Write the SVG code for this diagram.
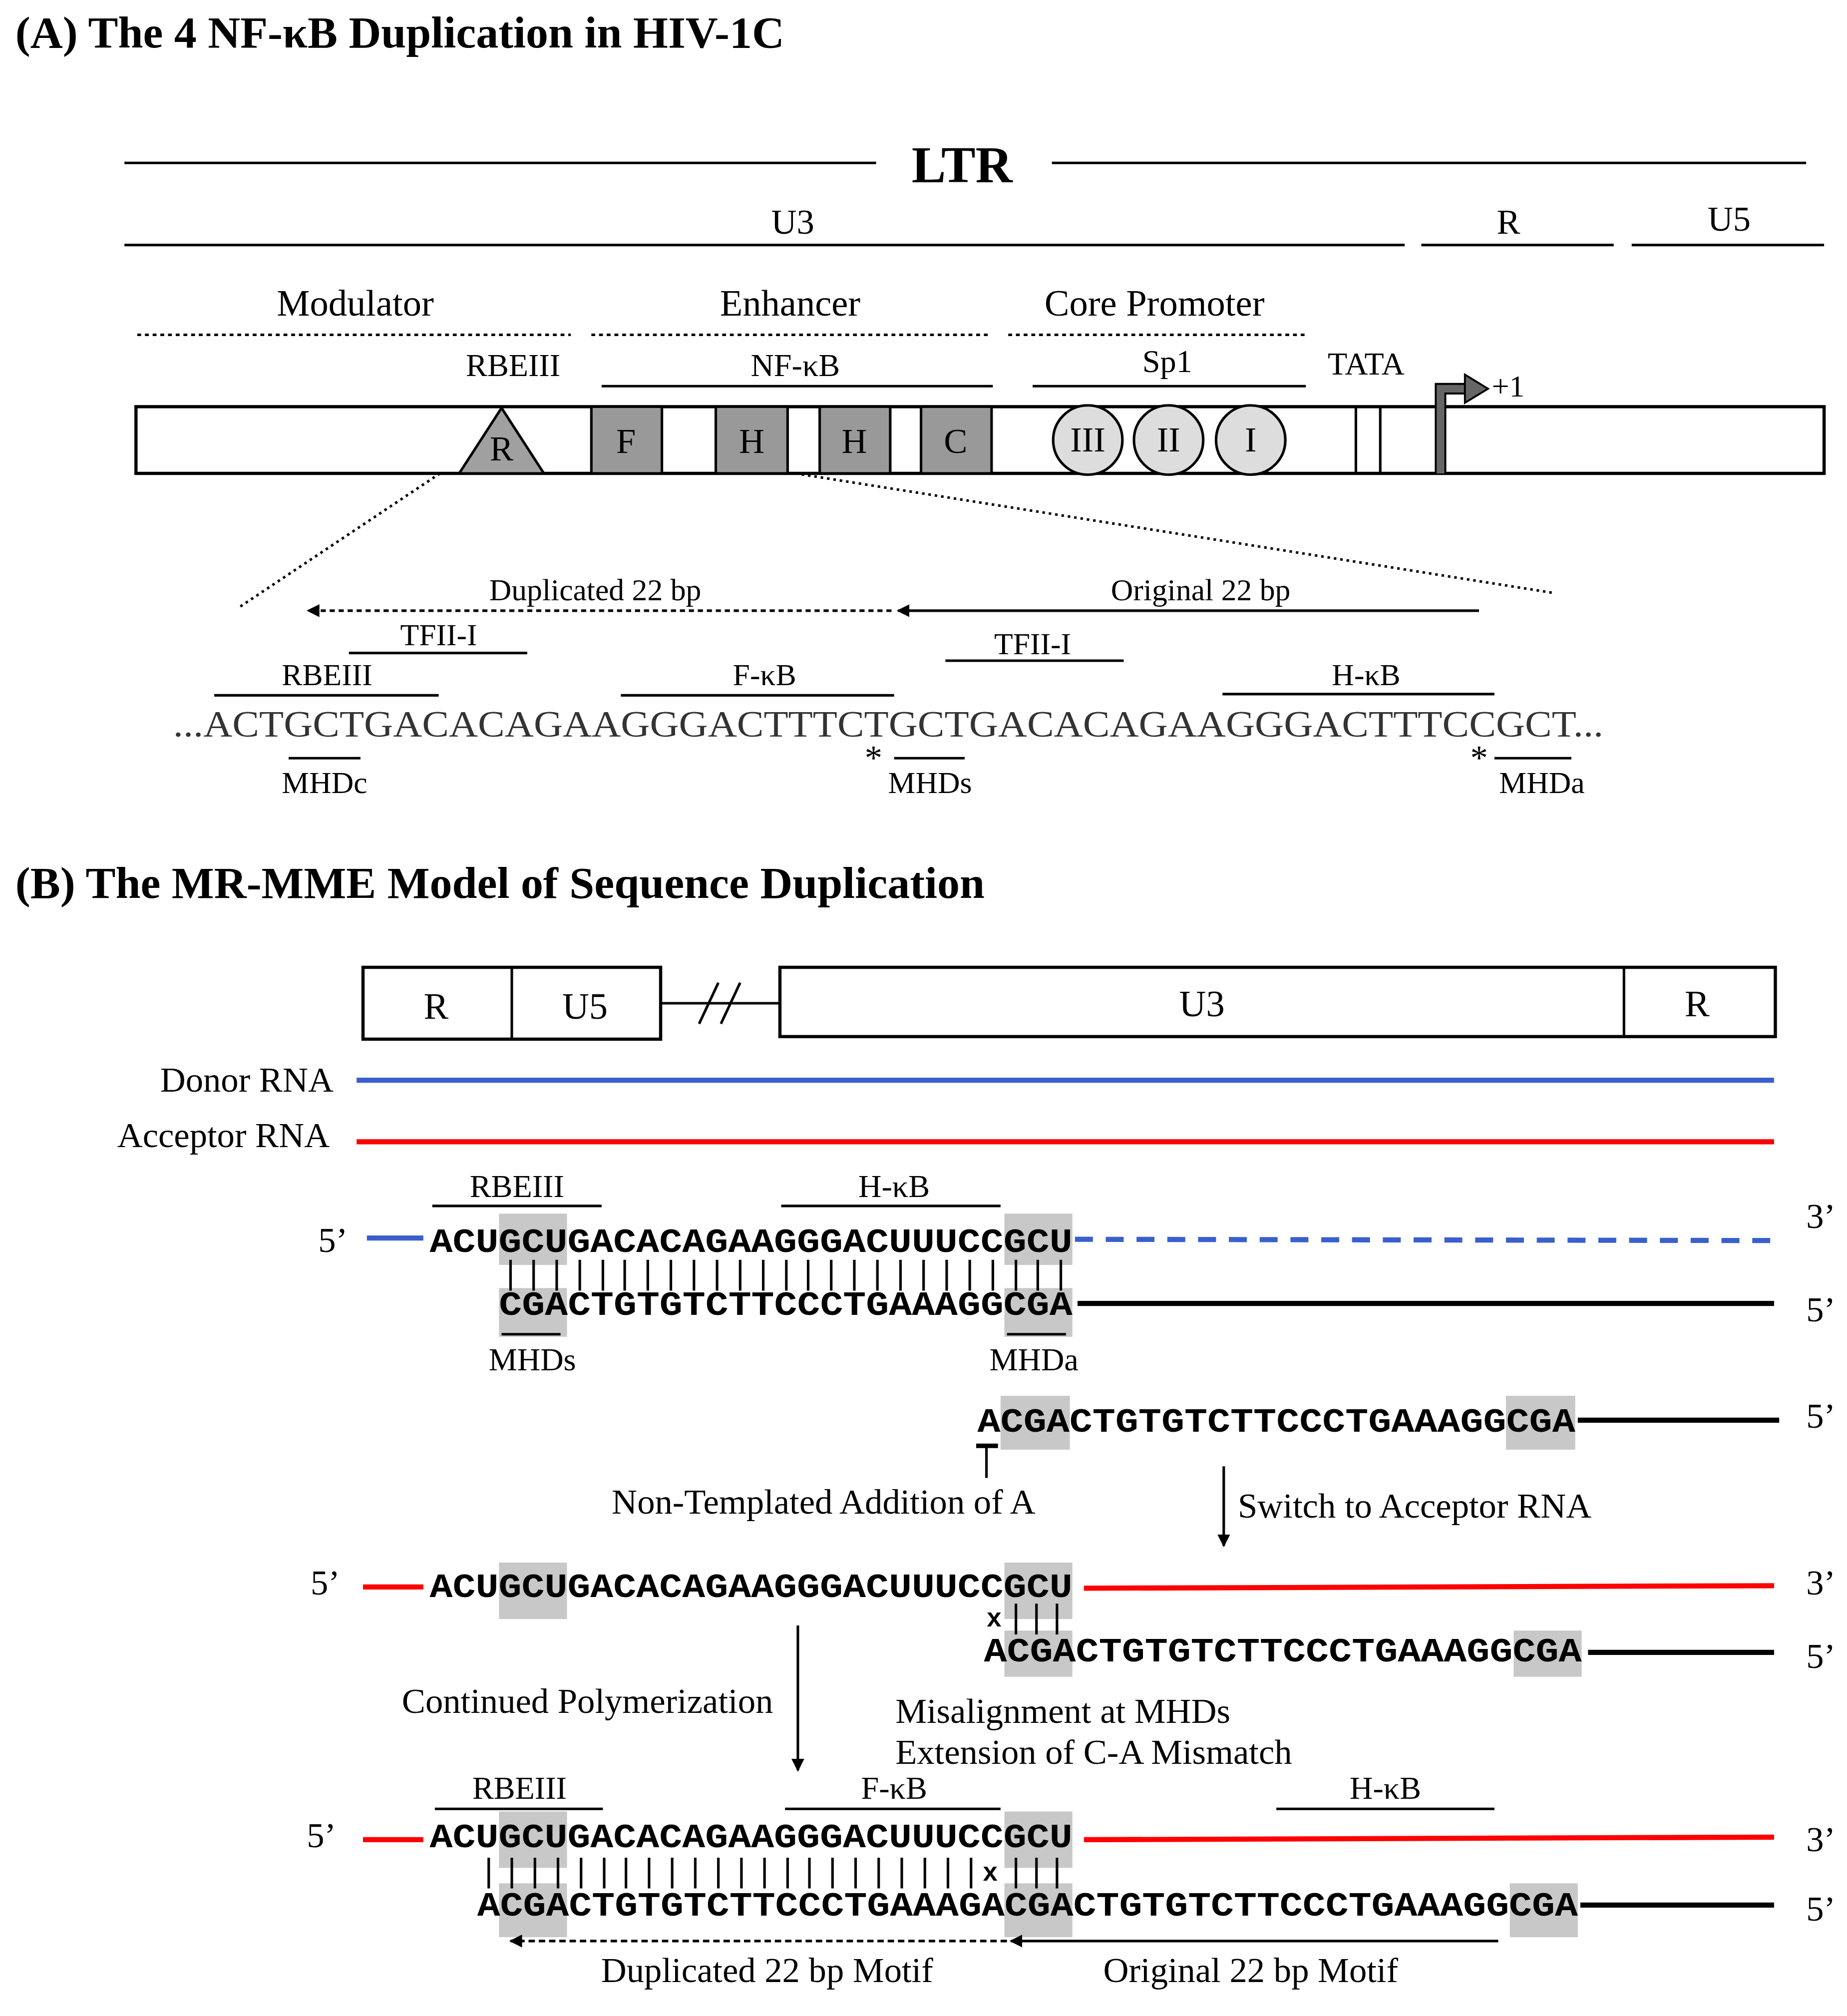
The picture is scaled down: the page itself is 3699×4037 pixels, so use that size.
<svg xmlns="http://www.w3.org/2000/svg" width="3699" height="4037" viewBox="0 0 3699 4037">
<defs>
<style>
text{font-family:"Liberation Serif","Times New Roman",serif;fill:#000}
.t{font-size:35px;font-weight:bold}
.l{font-size:27.5px}
.m{font-size:24px}
.c{text-anchor:middle}
.r{text-anchor:end}
.seq{font-family:"Liberation Mono","Courier New",monospace;font-weight:bold;font-size:27px}
.ln{stroke:#000;stroke-width:2;fill:none}
.bx{stroke:#000;stroke-width:2.5;fill:#fff}
.sh{fill:#c8c8c8}
</style>
<marker id="ah" viewBox="0 0 10 10" refX="9" refY="5" markerWidth="5" markerHeight="5" orient="auto-start-reverse"><path d="M0,0L10,5L0,10z" fill="#000"/></marker>
</defs>
<rect width="3699" height="4037" fill="#fff"/>
<g transform="scale(2.569)">
<g id="partA">
<text x="12" y="37" class="t">(A) The 4 NF-κB Duplication in HIV-1C</text>
<line x1="97" y1="127" x2="683" y2="127" class="ln"/><line x1="820" y1="127" x2="1408" y2="127" class="ln"/>
<text x="750" y="142" class="c" style="font-size:40px;font-weight:bold">LTR</text>
<text x="618" y="182" class="l c">U3</text><line x1="97" y1="191" x2="1095" y2="191" class="ln"/>
<text x="1176" y="182" class="l c">R</text><line x1="1108" y1="191" x2="1258" y2="191" class="ln"/>
<text x="1348" y="180" class="l c">U5</text><line x1="1272" y1="191" x2="1422" y2="191" class="ln"/>
<text x="277" y="246" class="l c" style="font-size:29px">Modulator</text><line x1="107" y1="261" x2="445" y2="261" class="ln" stroke-width="3" stroke-dasharray="3,3"/>
<text x="616" y="246" class="l c" style="font-size:29px">Enhancer</text><line x1="461" y1="261" x2="772" y2="261" class="ln" stroke-width="3" stroke-dasharray="3,3"/>
<text x="900" y="246" class="l c" style="font-size:29px">Core Promoter</text><line x1="786" y1="261" x2="1018" y2="261" class="ln" stroke-width="3" stroke-dasharray="3,3"/>
<text x="400" y="293" class="m c" style="font-size:25px">RBEIII</text>
<text x="620" y="293" class="m c" style="font-size:25px">NF-κB</text><line x1="469" y1="301" x2="774" y2="301" class="ln"/>
<text x="910" y="290" class="m c" style="font-size:25px">Sp1</text><line x1="805" y1="301" x2="1018" y2="301" class="ln"/>
<text x="1065" y="292" class="m c" style="font-size:25px">TATA</text>
<rect x="106" y="317" width="1316" height="52" class="bx"/>
<g id="nodeR"><polygon points="358,369 391,318 424,369" fill="#a0a0a0" stroke="#000" stroke-width="2"/><text x="391" y="359" class="l c">R</text></g>
<g id="nodeF"><rect x="461" y="317" width="55" height="52" fill="#999" stroke="#000" stroke-width="2"/><text x="488" y="353" class="l c">F</text></g>
<g id="nodeH1"><rect x="558" y="317" width="56" height="52" fill="#999" stroke="#000" stroke-width="2"/><text x="586" y="353" class="l c">H</text></g>
<g id="nodeH2"><rect x="639" y="317" width="55" height="52" fill="#999" stroke="#000" stroke-width="2"/><text x="666" y="353" class="l c">H</text></g>
<g id="nodeC"><rect x="718" y="317" width="55" height="52" fill="#999" stroke="#000" stroke-width="2"/><text x="745" y="353" class="l c">C</text></g>
<g id="sp1"><circle cx="848" cy="343" r="27" fill="#ddd" stroke="#000" stroke-width="2"/><text x="848" y="352" class="l c">III</text>
<circle cx="911" cy="343" r="27" fill="#ddd" stroke="#000" stroke-width="2"/><text x="911" y="352" class="l c">II</text>
<circle cx="975" cy="343" r="27" fill="#ddd" stroke="#000" stroke-width="2"/><text x="975" y="352" class="l c">I</text></g>
<line x1="1057" y1="317" x2="1057" y2="369" class="ln"/><line x1="1076" y1="317" x2="1076" y2="369" class="ln"/>
<path d="M1123,369V303H1145" stroke="#000" stroke-width="9" fill="none"/><path d="M1123,369V303H1145" stroke="#666" stroke-width="6" fill="none"/>
<polygon points="1142,292 1160,303 1142,314" fill="#666" stroke="#000" stroke-width="1.5"/>
<text x="1163" y="309" class="m">+1</text>
<line x1="343" y1="369" x2="187" y2="473" class="ln" stroke-dasharray="2,3"/>
<line x1="620" y1="369" x2="1210" y2="462" class="ln" stroke-dasharray="2,3"/>
<line x1="695" y1="476" x2="240" y2="476" class="ln" stroke-width="2.5" stroke-dasharray="4,3" marker-end="url(#ah)"/>
<line x1="1153" y1="476" x2="700" y2="476" class="ln" stroke-width="2.5" marker-end="url(#ah)"/>
<text x="464" y="468" class="m c">Duplicated  22 bp</text><text x="936" y="468" class="m c">Original  22 bp</text>
<text x="342" y="503" class="m c">TFII-I</text><line x1="272" y1="509" x2="411" y2="509" class="ln"/>
<text x="805" y="510" class="m c">TFII-I</text><line x1="737" y1="515" x2="876" y2="515" class="ln"/>
<text x="255" y="534" class="m c">RBEIII</text><line x1="167" y1="542" x2="342" y2="542" class="ln"/>
<text x="596" y="534" class="m c">F-κB</text><line x1="484" y1="542" x2="697" y2="542" class="ln"/>
<text x="1065" y="534" class="m c">H-κB</text><line x1="953" y1="541" x2="1165" y2="541" class="ln"/>
<text x="135" y="574" style="font-size:29px;fill:#333" textLength="1115" lengthAdjust="spacingAndGlyphs">...ACTGCTGACACAGAAGGGACTTTCTGCTGACACAGAAGGGACTTTCCGCT...</text>
<text x="681" y="600" class="l c">*</text><text x="1153" y="600" class="l c">*</text>
<line x1="225" y1="591" x2="281" y2="591" class="ln"/><text x="253" y="618" class="m c">MHDc</text>
<line x1="697" y1="591" x2="752" y2="591" class="ln"/><text x="725" y="618" class="m c">MHDs</text>
<line x1="1165" y1="591" x2="1225" y2="591" class="ln"/><text x="1202" y="618" class="m c">MHDa</text>
</g>
<g id="partB">
<text x="12" y="700" class="t">(B) The MR-MME Model of Sequence Duplication</text>
<g id="ltrbox"><rect x="283" y="754" width="232" height="56" class="bx"/><line x1="399" y1="754" x2="399" y2="810" class="ln" stroke-width="2.5"/>
<text x="340" y="794" class="l c" style="font-size:29px">R</text><text x="456" y="794" class="l c" style="font-size:29px">U5</text>
<line x1="515" y1="782" x2="608" y2="782" class="ln" stroke-width="2.5"/>
<line x1="545" y1="798" x2="560" y2="766" class="ln" stroke-width="2.5"/><line x1="562" y1="798" x2="577" y2="766" class="ln" stroke-width="2.5"/>
<rect x="608" y="754" width="776" height="54" class="bx"/><line x1="1266" y1="754" x2="1266" y2="808" class="ln" stroke-width="2.5"/>
<text x="937" y="792" class="l c" style="font-size:29px">U3</text><text x="1323" y="792" class="l c" style="font-size:29px">R</text></g>
<text x="260" y="851" class="l r">Donor RNA</text><line x1="278" y1="842" x2="1383" y2="842" stroke="#3a5fcd" stroke-width="4"/>
<text x="257" y="894" class="l r">Acceptor RNA</text><line x1="278" y1="890" x2="1383" y2="890" stroke="#f00" stroke-width="4"/>
<text x="403" y="933" class="m c" style="font-size:25px">RBEIII</text><line x1="337" y1="940" x2="469" y2="940" class="ln"/>
<text x="697" y="933" class="m c" style="font-size:25px">H-κB</text><line x1="609" y1="940" x2="780" y2="940" class="ln"/>
<g id="row1">
<rect x="389" y="946" width="53" height="40" class="sh"/><rect x="783" y="946" width="53" height="40" class="sh"/>
<rect x="389" y="1004" width="53" height="38" class="sh"/><rect x="783" y="1004" width="53" height="38" class="sh"/>
<text x="271" y="976" class="l r">5’</text><line x1="286" y1="965" x2="330" y2="965" stroke="#3a5fcd" stroke-width="4"/>
<text x="335" y="976" class="seq" textLength="501" lengthAdjust="spacingAndGlyphs">ACUGCUGACACAGAAGGGACUUUCCGCU</text>
<line x1="838" y1="966" x2="1383" y2="967" stroke="#3a5fcd" stroke-width="4" stroke-dasharray="14,10"/>
<text x="1408" y="957" class="l">3’</text>
<path d="M398,982v24M416,982v24M434,982v24M452,982v24M470,982v24M487,982v24M505,982v24M523,982v24M541,982v24M559,982v24M577,982v24M595,982v24M613,982v24M630,982v24M648,982v24M666,982v24M684,982v24M702,982v24M720,982v24M738,982v24M756,982v24M774,982v24M792,982v24M809,982v24M827,982v24" class="ln" stroke-width="1.5"/>
<text x="389" y="1025" class="seq" textLength="447" lengthAdjust="spacingAndGlyphs">CGACTGTGTCTTCCCTGAAAGGCGA</text>
<line x1="840" y1="1016" x2="1383" y2="1016" stroke="#000" stroke-width="4"/>
<text x="1408" y="1030" class="l">5’</text>
<line x1="391" y1="1040" x2="437" y2="1040" class="ln"/><text x="415" y="1068" class="m c" style="font-size:25px">MHDs</text>
<line x1="785" y1="1040" x2="831" y2="1040" class="ln"/><text x="806" y="1068" class="m c" style="font-size:25px">MHDa</text>
</g>
<g id="row2">
<rect x="780" y="1088" width="54" height="42" class="sh"/><rect x="1174" y="1088" width="54" height="42" class="sh"/>
<text x="762" y="1116" class="seq" textLength="466" lengthAdjust="spacingAndGlyphs">ACGACTGTGTCTTCCCTGAAAGGCGA</text>
<line x1="1230" y1="1107" x2="1387" y2="1107" stroke="#000" stroke-width="4"/>
<text x="1408" y="1113" class="l">5’</text>
<line x1="761" y1="1127" x2="778" y2="1127" stroke="#000" stroke-width="3.5"/><line x1="769" y1="1127" x2="769" y2="1152" class="ln"/>
<text x="642" y="1180" class="l c">Non-Templated Addition of A</text>
<line x1="954" y1="1143" x2="954" y2="1205" class="ln" stroke-width="2.5" marker-end="url(#ah)"/>
<text x="965" y="1183" class="l">Switch to Acceptor RNA</text>
</g>
<g id="row3">
<rect x="389" y="1218" width="53" height="44" class="sh"/><rect x="783" y="1218" width="53" height="44" class="sh"/>
<rect x="783" y="1271" width="53" height="36" class="sh"/><rect x="1180" y="1271" width="53" height="36" class="sh"/>
<text x="265" y="1243" class="l r">5’</text><line x1="283" y1="1237" x2="330" y2="1237" stroke="#f00" stroke-width="4"/>
<text x="335" y="1245" class="seq" textLength="501" lengthAdjust="spacingAndGlyphs">ACUGCUGACACAGAAGGGACUUUCCGCU</text>
<line x1="845" y1="1238" x2="1383" y2="1236" stroke="#f00" stroke-width="4"/>
<text x="1408" y="1243" class="l">3’</text>
<text x="775" y="1268" class="seq c" style="font-size:20px">x</text>
<path d="M792,1250v24M808,1250v24M824,1250v24" class="ln" stroke-width="1.5"/>
<text x="767" y="1295" class="seq" textLength="466" lengthAdjust="spacingAndGlyphs">ACGACTGTGTCTTCCCTGAAAGGCGA</text>
<line x1="1238" y1="1288" x2="1383" y2="1288" stroke="#000" stroke-width="4"/>
<text x="1408" y="1300" class="l">5’</text>
<line x1="622" y1="1267" x2="622" y2="1380" class="ln" stroke-width="2.5" marker-end="url(#ah)"/>
<text x="458" y="1335" class="l c">Continued Polymerization</text>
<text x="698" y="1343" class="l">Misalignment at MHDs</text>
<text x="698" y="1375" class="l">Extension of C-A Mismatch</text>
</g>
<g id="row4">
<text x="405" y="1402" class="m c" style="font-size:25px">RBEIII</text><line x1="339" y1="1410" x2="470" y2="1410" class="ln"/>
<text x="697" y="1402" class="m c" style="font-size:25px">F-κB</text><line x1="612" y1="1410" x2="780" y2="1410" class="ln"/>
<text x="1080" y="1402" class="m c" style="font-size:25px">H-κB</text><line x1="995" y1="1410" x2="1165" y2="1410" class="ln"/>
<rect x="389" y="1412" width="53" height="44" class="sh"/><rect x="783" y="1412" width="53" height="44" class="sh"/>
<rect x="389" y="1468" width="53" height="42" class="sh"/><rect x="783" y="1468" width="53" height="42" class="sh"/><rect x="1177" y="1468" width="53" height="42" class="sh"/>
<text x="262" y="1440" class="l r">5’</text><line x1="283" y1="1434" x2="330" y2="1434" stroke="#f00" stroke-width="4"/>
<text x="335" y="1440" class="seq" textLength="501" lengthAdjust="spacingAndGlyphs">ACUGCUGACACAGAAGGGACUUUCCGCU</text>
<line x1="845" y1="1434" x2="1383" y2="1432" stroke="#f00" stroke-width="4"/>
<text x="1408" y="1443" class="l">3’</text>
<path d="M381,1448v24M399,1448v24M417,1448v24M435,1448v24M453,1448v24M471,1448v24M488,1448v24M506,1448v24M524,1448v24M542,1448v24M560,1448v24M578,1448v24M596,1448v24M614,1448v24M631,1448v24M649,1448v24M667,1448v24M685,1448v24M703,1448v24M721,1448v24M739,1448v24M757,1448v24M792,1448v24M808,1448v24M824,1448v24" class="ln" stroke-width="1.5"/>
<text x="772" y="1466" class="seq c" style="font-size:20px">x</text>
<text x="372" y="1493" class="seq" textLength="858" lengthAdjust="spacingAndGlyphs">ACGACTGTGTCTTCCCTGAAAGACGACTGTGTCTTCCCTGAAAGGCGA</text>
<line x1="1232" y1="1485" x2="1383" y2="1485" stroke="#000" stroke-width="4"/>
<text x="1408" y="1497" class="l">5’</text>
<line x1="785" y1="1513" x2="398" y2="1513" class="ln" stroke-width="3" stroke-dasharray="5,3" marker-end="url(#ah)"/>
<line x1="1168" y1="1513" x2="788" y2="1513" class="ln" stroke-width="3" marker-end="url(#ah)"/>
<text x="598" y="1545" class="l c">Duplicated 22 bp Motif</text>
<text x="975" y="1545" class="l c">Original 22 bp Motif</text>
</g>
</g>
</g>
</svg>
